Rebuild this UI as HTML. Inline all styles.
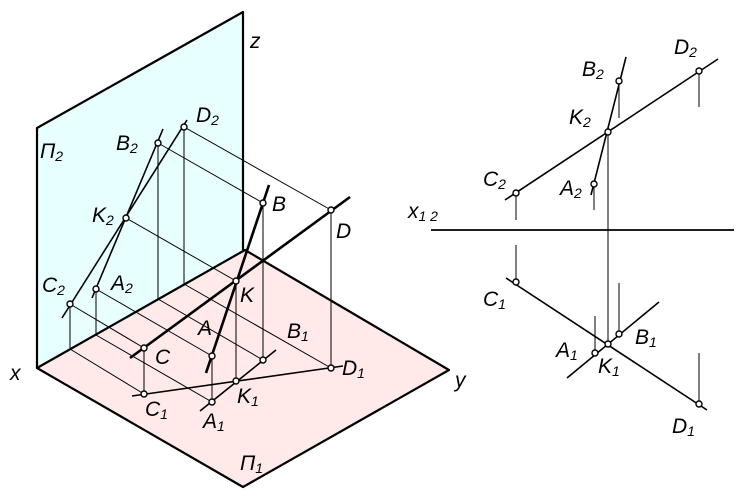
<!DOCTYPE html>
<html><head><meta charset="utf-8"><style>
html,body{margin:0;padding:0;background:#fff;}
svg{display:block;}
text{font-family:"Liberation Sans",sans-serif;font-style:italic;fill:#000;}
.t{font-size:21px;}
.s{font-size:14px;}
</style></head><body>
<svg width="741" height="496" viewBox="0 0 741 496" xmlns="http://www.w3.org/2000/svg">
<!-- planes -->
<polygon points="37,128 243,12 245,250 37,368" fill="#e8ffff"/>
<polygon points="37,368 245,250 449,370 243,487" fill="#ffe9e9"/>
<g stroke="#000" stroke-width="2.2" fill="none" stroke-linejoin="round">
<polyline points="37,368 37,128 243,12 243,250"/>
<polygon points="37,368 245,250 449,370 243,487"/>
</g>
<!-- thin projection lines -->
<g stroke="#000" stroke-width="1" fill="none">
<line x1="158" y1="143" x2="158" y2="299"/>
<line x1="184" y1="127" x2="184" y2="284"/>
<line x1="70" y1="304" x2="70" y2="349"/>
<line x1="96" y1="289" x2="96" y2="335"/>
<line x1="70" y1="349" x2="144" y2="394"/>
<line x1="96" y1="335" x2="212" y2="402"/>
<line x1="158" y1="299" x2="263" y2="360"/>
<line x1="184" y1="284" x2="331" y2="368"/>
<line x1="184" y1="127" x2="331" y2="210"/>
<line x1="158" y1="143" x2="263" y2="203"/>
<line x1="126" y1="218" x2="236" y2="281"/>
<line x1="70" y1="304" x2="144" y2="348"/>
<line x1="96" y1="289" x2="212" y2="356"/>
<line x1="331" y1="210" x2="331" y2="368"/>
<line x1="263" y1="203" x2="263" y2="360"/>
<line x1="236" y1="281" x2="236" y2="381"/>
<line x1="144" y1="348" x2="144" y2="394"/>
<line x1="212" y1="356" x2="212" y2="402"/>
<!-- right -->
<line x1="608" y1="132" x2="608" y2="345"/>
<line x1="516" y1="193" x2="516" y2="220"/>
<line x1="594" y1="184" x2="594" y2="210"/>
<line x1="619" y1="81" x2="619" y2="118"/>
<line x1="699" y1="71" x2="699" y2="107"/>
<line x1="516" y1="245" x2="516" y2="282"/>
<line x1="699" y1="353" x2="699" y2="404"/>
<line x1="595" y1="316" x2="595" y2="353"/>
<line x1="619" y1="283" x2="619" y2="334"/>
</g>
<!-- medium lines -->
<g stroke="#000" stroke-width="1.6" fill="none">
<line x1="62" y1="318" x2="187" y2="120"/>
<line x1="92" y1="298" x2="163" y2="129"/>
<line x1="132" y1="396" x2="343" y2="366"/>
<line x1="200" y1="411" x2="276" y2="350"/>
<line x1="505" y1="200" x2="718" y2="59"/>
<line x1="591" y1="195" x2="626" y2="57"/>
<line x1="506" y1="278" x2="707" y2="410"/>
<line x1="567" y1="378" x2="659" y2="302"/>
<line x1="431" y1="230" x2="734" y2="230" stroke-width="1.8"/>
</g>
<!-- thick 3D lines -->
<g stroke="#000" stroke-width="2.6" fill="none">
<line x1="130" y1="358" x2="350" y2="197"/>
<line x1="206" y1="373" x2="269" y2="185"/>
</g>
<!-- points -->
<g fill="#fff" stroke="#000" stroke-width="1.4">
<circle cx="184" cy="127" r="3"/><circle cx="158" cy="143" r="3"/><circle cx="126" cy="218" r="3"/>
<circle cx="70" cy="304" r="3"/><circle cx="96" cy="289" r="3"/>
<circle cx="263" cy="203" r="3"/><circle cx="331" cy="210" r="3"/><circle cx="236" cy="281" r="3"/>
<circle cx="144" cy="348" r="3"/><circle cx="212" cy="356" r="3"/>
<circle cx="263" cy="360" r="3"/><circle cx="331" cy="368" r="3"/><circle cx="236" cy="381" r="3"/>
<circle cx="144" cy="394" r="3"/><circle cx="212" cy="402" r="3"/>
<circle cx="699" cy="71" r="3"/><circle cx="619" cy="81" r="3"/><circle cx="608" cy="132" r="3"/>
<circle cx="516" cy="193" r="3"/><circle cx="594" cy="184" r="3"/>
<circle cx="516" cy="282" r="3"/><circle cx="699" cy="404" r="3"/><circle cx="608" cy="344" r="3"/>
<circle cx="595" cy="353" r="3"/><circle cx="619" cy="334" r="3"/>
</g>
<!-- labels -->
<text class="t" x="40" y="158">Π<tspan class="s" dy="3">2</tspan></text>
<text class="t" x="116" y="150">B<tspan class="s" dy="3">2</tspan></text>
<text class="t" x="196" y="122">D<tspan class="s" dy="3">2</tspan></text>
<text class="t" x="92" y="222">K<tspan class="s" dy="3">2</tspan></text>
<text class="t" x="42" y="292">C<tspan class="s" dy="3">2</tspan></text>
<text class="t" x="111" y="290">A<tspan class="s" dy="3">2</tspan></text>
<text class="t" x="250" y="48">z</text>
<text class="t" x="272" y="211">B</text>
<text class="t" x="336" y="238">D</text>
<text class="t" x="240" y="302">K</text>
<text class="t" x="198" y="335">A</text>
<text class="t" x="155" y="364">C</text>
<text class="t" x="287" y="338">B<tspan class="s" dy="3">1</tspan></text>
<text class="t" x="342" y="375">D<tspan class="s" dy="3">1</tspan></text>
<text class="t" x="145" y="416">C<tspan class="s" dy="3">1</tspan></text>
<text class="t" x="203" y="428">A<tspan class="s" dy="3">1</tspan></text>
<text class="t" x="237" y="403">K<tspan class="s" dy="3">1</tspan></text>
<text class="t" x="10" y="380">x</text>
<text class="t" x="455" y="387">y</text>
<text class="t" x="240" y="470">Π<tspan class="s" dy="3">1</tspan></text>
<text class="t" x="582" y="76">B<tspan class="s" dy="3">2</tspan></text>
<text class="t" x="674" y="54">D<tspan class="s" dy="3">2</tspan></text>
<text class="t" x="569" y="124">K<tspan class="s" dy="3">2</tspan></text>
<text class="t" x="483" y="186">C<tspan class="s" dy="3">2</tspan></text>
<text class="t" x="560" y="195">A<tspan class="s" dy="3">2</tspan></text>
<text class="t" x="408" y="218">x<tspan class="s" dy="3">1 2</tspan></text>
<text class="t" x="483" y="306">C<tspan class="s" dy="3">1</tspan></text>
<text class="t" x="556" y="357">A<tspan class="s" dy="3">1</tspan></text>
<text class="t" x="635" y="344">B<tspan class="s" dy="3">1</tspan></text>
<text class="t" x="598" y="373">K<tspan class="s" dy="3">1</tspan></text>
<text class="t" x="672" y="433">D<tspan class="s" dy="3">1</tspan></text>
</svg>
</body></html>
